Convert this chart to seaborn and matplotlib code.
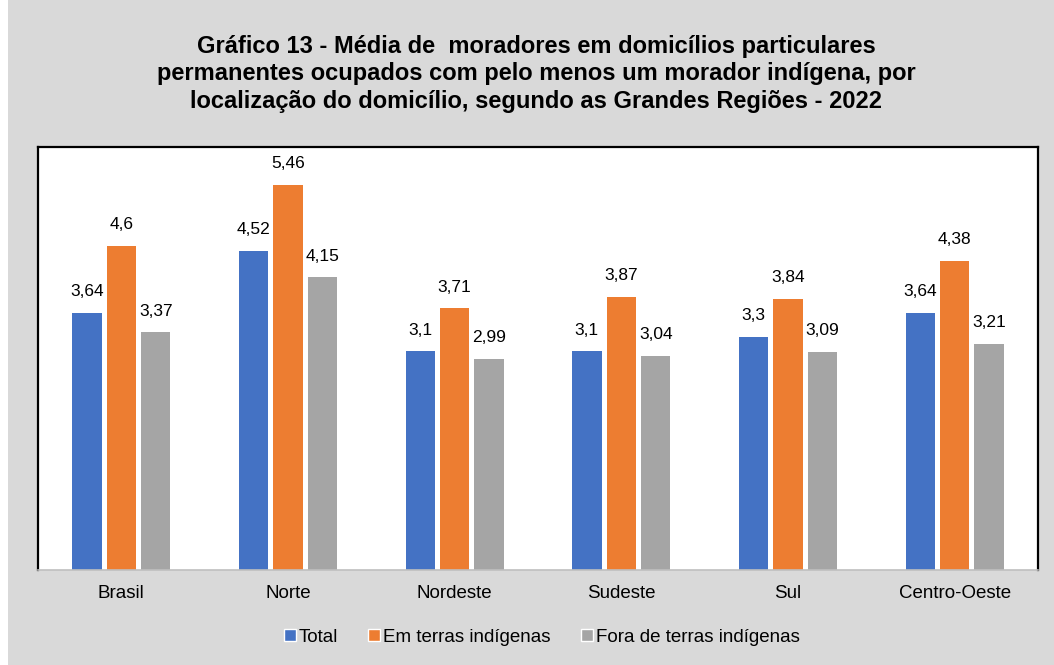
import pandas as pd
import matplotlib.pyplot as plt
import seaborn as sns
from matplotlib.patches import Rectangle

# Data
regioes = ["Brasil", "Norte", "Nordeste", "Sudeste", "Sul", "Centro-Oeste"]
series = ["Total", "Em terras indígenas", "Fora de terras indígenas"]
total = [3.64, 4.52, 3.10, 3.10, 3.30, 3.64]
em_terras = [4.60, 5.46, 3.71, 3.87, 3.84, 4.38]
fora_terras = [3.37, 4.15, 2.99, 3.04, 3.09, 3.21]
rotulos = {
    "Total": ["3,64", "4,52", "3,1", "3,1", "3,3", "3,64"],
    "Em terras indígenas": ["4,6", "5,46", "3,71", "3,87", "3,84", "4,38"],
    "Fora de terras indígenas": ["3,37", "4,15", "2,99", "3,04", "3,09", "3,21"],
}
cores = ["#4472c4", "#ed7d31", "#a5a5a5"]

df = pd.DataFrame({
    "regiao": regioes * 3,
    "serie": [s for s in series for _ in regioes],
    "valor": total + em_terras + fora_terras,
})

sns.set_style("white")
plt.rcParams["font.family"] = ["Liberation Sans", "DejaVu Sans"]
plt.rcParams["text.color"] = "black"
plt.rcParams["xtick.color"] = "black"

fig = plt.figure(figsize=(10.54, 6.65), dpi=100)
fig.patch.set_facecolor("#d9d9d9")
# thin white strip on the left edge
fig.patches.append(Rectangle((0, 0), 8 / 1054, 1, transform=fig.transFigure,
                             facecolor="white", edgecolor="none", zorder=0))

ax = fig.add_axes([38 / 1054, 95 / 665, 1000 / 1054, 423 / 665])
ax.set_facecolor("white")

sns.barplot(data=df, x="regiao", y="valor", hue="serie", order=regioes,
            hue_order=series, palette=cores, width=0.62, gap=0.15,
            saturation=1, linewidth=0, ax=ax, legend=False)

ax.set_ylim(0, 6)
ax.set_xlim(-0.5, len(regioes) - 0.5)
ax.set_yticks([])
ax.set_xlabel("")
ax.set_ylabel("")
ax.tick_params(axis="x", length=0, labelsize=13.5, pad=11)

for side in ["left", "top", "right"]:
    ax.spines[side].set_color("black")
    ax.spines[side].set_linewidth(1.6)
ax.spines["bottom"].set_color("#bfbfbf")
ax.spines["bottom"].set_linewidth(1.2)

for cont, serie in zip(ax.containers, series):
    ax.bar_label(cont, labels=rotulos[serie], padding=10, fontsize=12.5)

fig.text(0.509, 0.947,
         "Gráfico 13 - Média de  moradores em domicílios particulares\n"
         "permanentes ocupados com pelo menos um morador indígena, por\n"
         "localização do domicílio, segundo as Grandes Regiões - 2022",
         ha="center", va="top", fontsize=17, fontweight="bold",
         linespacing=1.23)

handles = [Rectangle((0, 0), 1, 1, facecolor=c) for c in cores]
fig.legend(handles, series, loc="center", bbox_to_anchor=(0.514, 0.042),
           ncol=3, frameon=False, fontsize=13.5, handlelength=0.65,
           handleheight=0.65, handletextpad=0.15, columnspacing=1.6)

fig.savefig("out.png", dpi=100, facecolor=fig.get_facecolor())
